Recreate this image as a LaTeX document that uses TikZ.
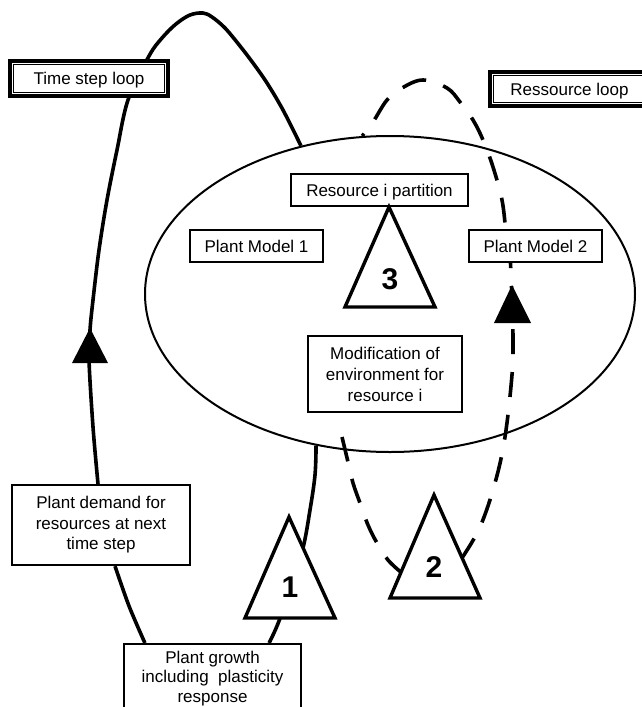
\documentclass[tikz,border=0pt]{standalone}
\usepackage{fontspec}
\setmainfont{Liberation Sans}
\usetikzlibrary{shapes.geometric,calc}
\pgfdeclarelayer{back}
\pgfsetlayers{back,main}
\begin{document}
\begin{tikzpicture}[x=1pt,y=-1pt,
  lbl/.style={font=\fontsize{17}{20.5}\selectfont},
  box/.style={draw, line width=2.2pt, fill=white, inner sep=0pt, align=center, lbl},
  onebox/.style={box, minimum height=32pt, text height=12.2pt, text depth=0pt},
  loopbox/.style={draw, line width=3.6pt, fill=white, inner sep=0pt, lbl, text height=12.2pt, text depth=0pt},
  innerframe/.style={line width=1.2pt},
  solidloop/.style={line width=3.6pt},
  dashloop/.style={line width=3.6pt, dash pattern=on 25pt off 18pt},
  tri/.style={draw, line width=3.4pt, fill=white},
  head/.style={fill=black},
  num/.style={font=\fontsize{30}{30}\selectfont\bfseries, inner sep=0pt}]

\useasboundingbox (0,0) rectangle (641,707);

% the environment shared by the plant models
\node[ellipse, draw, line width=2pt, minimum width=490pt, minimum height=316pt, inner sep=0pt] (env) at (390,294) {};

% loop labels with double frames
\node[loopbox, minimum width=158pt, minimum height=35pt] (ts) at (89,78.5) {Time step loop};
\draw[innerframe] ([shift={(5.2pt,5.2pt)}]ts.south west) rectangle ([shift={(-5.2pt,-5.2pt)}]ts.north east);
\node[loopbox, minimum width=159pt, minimum height=34pt] (rl) at (569.5,89) {Ressource loop};
\draw[innerframe] ([shift={(5.2pt,5.2pt)}]rl.south west) rectangle ([shift={(-5.2pt,-5.2pt)}]rl.north east);

% boxes inside the environment
\node[onebox, minimum width=177pt] (part) at (379.5,190) {Resource i partition};
\node[onebox, minimum width=133pt] (pm1) at (256.5,246) {Plant Model 1};
\node[onebox, minimum width=133pt] (pm2) at (535.5,246) {Plant Model 2};
\node[box, minimum width=154pt, minimum height=76pt, font=\fontsize{17}{21}\selectfont] (mod) at (385,374) {Modification of\\environment for\\resource i};

% boxes of the time step loop
\node[box, minimum width=178pt, minimum height=80pt] (pd) at (101,525) {Plant demand for\\resources at next\\time step};
\node[box, minimum width=177pt, anchor=north, inner ysep=7pt, font=\fontsize{17}{19.5}\selectfont] (pg) at (212.5,643) {Plant growth\\including~ plasticity\\response};

% numbered triangles
\coordinate (t1a) at (289,517); \coordinate (t1l) at (245,618); \coordinate (t1r) at (335,618);
\coordinate (t2a) at (434,495); \coordinate (t2l) at (390,598); \coordinate (t2r) at (480,598);
\coordinate (t3a) at (389,207); \coordinate (t3l) at (345,307); \coordinate (t3r) at (435,307);
\draw[tri] (t1a) -- (t1l) -- (t1r) -- cycle;
\draw[tri] (t2a) -- (t2l) -- (t2r) -- cycle;
\draw[tri] (t3a) -- (t3l) -- (t3r) -- cycle;
\node[num] (n1) at (290,587) {1};
\node[num] (n2) at (434,567) {2};
\node[num] (n3) at (390,279) {3};

% connector end points
\coordinate (envtop) at (env.121);
\coordinate (envbot) at (env.244);
\coordinate (envres) at (env.100);
\coordinate (pdtop) at ([xshift=-3pt]pd.north);
\coordinate (pdbot) at ([xshift=14pt]pd.south);
\coordinate (pgl) at ([xshift=22pt]pg.north west);
\coordinate (pgr) at ([xshift=-33pt]pg.north east);
\coordinate (pmtop) at ([xshift=-30pt]pm2.north);
\coordinate (pmbot) at ([xshift=-25pt]pm2.south);
\coordinate (t2rc) at ($(t2a)!0.61!(t2r)$);
\coordinate (t2lc) at ($(t2a)!0.75!(t2l)$);
\coordinate (modout) at (342,437);

\begin{pgfonlayer}{back}
  % time step loop
  \draw[solidloop] plot[smooth, tension=0.55] coordinates {(envtop) (283,110) (267,83) (253,63) (240,46) (225,28) (212,17) (203,13) (190,15) (176,24) (162,38) (149,56) (128,100) (117,150) (107,200) (99,250) (93,300) (90,330) (89,360) (93,427) (pdtop)};
  \draw[solidloop] plot[smooth] coordinates {(pdbot) (129,606) (pgl)};
  \draw[solidloop] plot[smooth, tension=0.6] coordinates {(pgr) (279,621) (292,582) (303,548) (310,510) (315,475) (envbot)};
  % resource loop
  \draw[dashloop, dash phase=22pt] plot[smooth, tension=0.6] coordinates {(envres) (373,122) (387,100) (402,88) (423,80) (447,88) (460,102) (473,120) (483,140) (493,167) (502,200) (pmtop)};
  \draw[dashloop, dash phase=20pt] plot[smooth, tension=0.6] coordinates {(pmbot) (512,300) (513,340) (512,375) (505,437) (495,483) (480,527) (t2rc)};
  \draw[dashloop] plot[smooth, tension=0.6] coordinates {(modout) (348,462) (353,483) (360,503) (368,525) (377,543) (388,560) (t2lc)};
\end{pgfonlayer}

% arrowheads on the loops
\coordinate (ha) at (90,328); \coordinate (hb) at (72,363); \coordinate (hc) at (108,363);
\fill[head] (ha) -- (hb) -- (hc) -- cycle;
\coordinate (ra) at (512,285); \coordinate (rb) at (494,323); \coordinate (rc) at (531,323);
\fill[head] (ra) -- (rb) -- (rc) -- cycle;

\end{tikzpicture}
\end{document}
